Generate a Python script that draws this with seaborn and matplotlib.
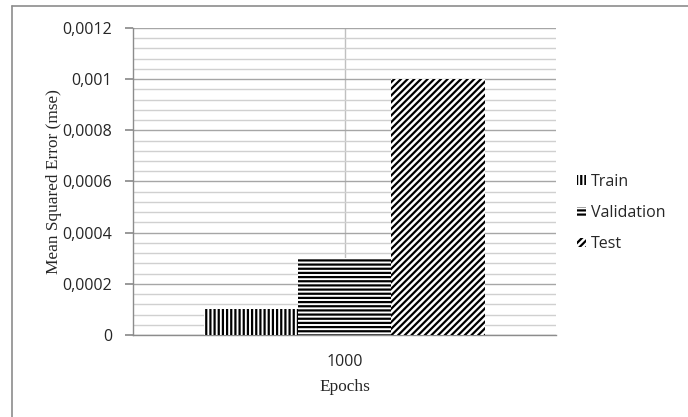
import pandas as pd
import matplotlib.pyplot as plt
import seaborn as sns
from matplotlib.ticker import FuncFormatter, MultipleLocator
from matplotlib.patches import Rectangle
from matplotlib.lines import Line2D

sns.set_theme(style="white")

# data
epochs = ["1000"]
series = ["Train", "Validation", "Test"]
train_mse = [0.0001]
validation_mse = [0.0003]
test_mse = [0.001]
hatches = ["||||", "----", "/////"]

df = pd.DataFrame({
    "Epochs": epochs * 3,
    "Series": series[0:1] * len(epochs) + series[1:2] * len(epochs) + series[2:3] * len(epochs),
    "mse": train_mse + validation_mse + test_mse,
})

plt.rcParams["hatch.linewidth"] = 1.6

fig = plt.figure(figsize=(6.88, 4.17), dpi=100)
ax = fig.add_axes([133 / 688, (417 - 335) / 417, 423 / 688, 307 / 417])

sns.barplot(data=df, x="Epochs", y="mse", hue="Series", hue_order=series,
            palette=["white"] * 3, width=0.665, edgecolor="black", linewidth=0,
            legend=False, ax=ax, zorder=3)

for patch, h in zip(ax.patches, hatches):
    patch.set_hatch(h)

ax.set_ylim(0, 0.0012)
ax.set_xlim(-0.5, 0.5)
ax.yaxis.set_major_locator(MultipleLocator(0.0002))
ax.yaxis.set_minor_locator(MultipleLocator(0.00004))
ax.yaxis.set_major_formatter(FuncFormatter(lambda v, p: f"{v:g}".replace(".", ",")))

ax.grid(axis="y", which="major", color="#a6a6a6", linewidth=1.0, zorder=0)
ax.grid(axis="y", which="minor", color="#d0d0d0", linewidth=1.0, zorder=0)
ax.axvline(0, color="#c0c0c0", linewidth=1.0, zorder=0)

for s in ["top", "right"]:
    ax.spines[s].set_visible(False)
for s in ["left", "bottom"]:
    ax.spines[s].set_color("#8c8c8c")
    ax.spines[s].set_linewidth(1.0)

ax.tick_params(axis="y", which="major", left=True, length=6, color="#8c8c8c", pad=9)
ax.tick_params(axis="x", bottom=False, pad=8)
for lab in ax.get_yticklabels() + ax.get_xticklabels():
    lab.set_fontfamily("Open Sans")
    lab.set_fontsize(11.5)
    lab.set_color("#262626")

ax.set_ylabel("Mean Squared Error (mse)", family="Liberation Serif", fontsize=12.4, color="#262626", labelpad=0)
ax.set_xlabel("Epochs", family="Liberation Serif", fontsize=12.4, color="#262626", labelpad=6)

handles = [Rectangle((0, 0), 1, 1, facecolor="white", edgecolor="black", linewidth=0, hatch=h)
           for h in hatches]
leg = fig.legend(handles, series, loc="center left", bbox_to_anchor=(563 / 688, 1 - 213 / 417),
                 frameon=False, handlelength=0.55, handleheight=0.55, handletextpad=0.3,
                 labelspacing=0.95, prop={"family": "Open Sans", "size": 11.5})

# outer chart border (left and top edges visible)
fig.add_artist(Line2D([12 / 688, 12 / 688], [0, 1 - 6 / 417], color="#8c8c8c", linewidth=1.2))
fig.add_artist(Line2D([12 / 688, 1], [1 - 6 / 417, 1 - 6 / 417], color="#8c8c8c", linewidth=1.2))

fig.savefig("out.png", dpi=100)
